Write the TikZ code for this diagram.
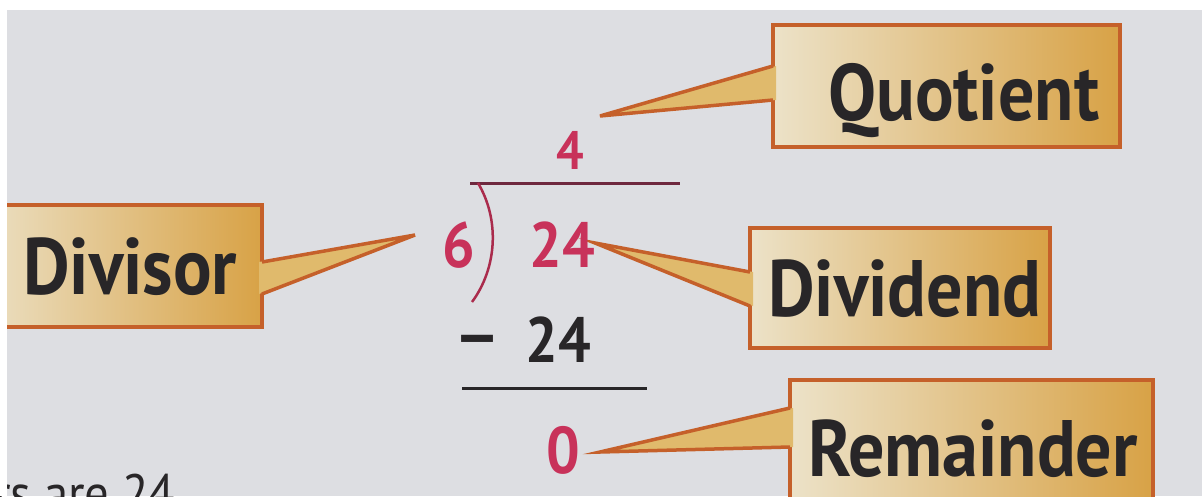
\documentclass[tikz,border=0pt]{standalone}
\usepackage{fontspec}
\newfontfamily\lblfont{PT Sans}[FakeStretch=0.9]
\definecolor{bg}{RGB}{221,222,226}
\definecolor{brd}{RGB}{197,96,42}
\definecolor{boxL}{RGB}{236,226,200}
\definecolor{boxR}{RGB}{216,162,70}
\definecolor{tailC}{RGB}{224,186,108}
\definecolor{txt}{RGB}{40,38,40}
\definecolor{red1}{RGB}{200,50,90}
\definecolor{maroon1}{RGB}{110,40,62}
\begin{document}
\begin{tikzpicture}[x=1pt,y=-1pt,
  lbl/.style={font=\lblfont\bfseries\fontsize{80}{86}\selectfont, text=txt, inner sep=0pt, anchor=base west},
  num/.style={font=\lblfont\bfseries\fontsize{64}{70}\selectfont, text=red1, inner sep=0pt},
  callbox/.style={draw=brd, line width=3.5pt, left color=boxL, right color=boxR, inner sep=0pt},
  tailfill/.style={fill=tailC},
  tailedge/.style={draw=brd, line width=3.5pt, line join=miter},
]
\useasboundingbox (0,0) rectangle (1202,496);
\clip (0,0) rectangle (1202,496);
\fill[bg] (0,0) rectangle (1202,496);

% ---- Quotient callout
\node[callbox, minimum width=347pt, minimum height=122pt] (qbox) at (946.5,86) {};
\coordinate (qa) at (773,66);
\coordinate (qb) at (773,100);
\coordinate (qtip) at (600,116);
\fill[tailfill] ([xshift=3pt]qa) -- (qtip) -- ([xshift=3pt]qb) -- cycle;
\draw[tailedge] (qa) -- (qtip) -- (qb);
\node[lbl] (quot) at (828,120) {Quotient};

% ---- Divisor callout
\node[callbox, minimum width=290pt, minimum height=122pt] (dbox) at (117,266) {};
\coordinate (da) at (262,262);
\coordinate (db) at (262,294);
\coordinate (dtip) at (415,235);
\fill[tailfill] ([xshift=-3pt]da) -- (dtip) -- ([xshift=-3pt]db) -- cycle;
\draw[tailedge] (da) -- (dtip) -- (db);
\node[lbl] (divr) at (23,294) {Divisor};

% ---- Dividend callout
\node[callbox, minimum width=300pt, minimum height=120pt] (vbox) at (900,288) {};
\coordinate (va) at (750,272);
\coordinate (vb) at (750,306);
\coordinate (vtip) at (595,243);
\fill[tailfill] ([xshift=3pt]va) -- (vtip) -- ([xshift=3pt]vb) -- cycle;
\draw[tailedge] (va) -- (vtip) -- (vb);
\node[lbl] (divd) at (768,316) {Dividend};

% ---- Remainder callout
\node[callbox, minimum width=363pt, minimum height=150pt] (rbox) at (971.5,455) {};
\coordinate (ra) at (790,408);
\coordinate (rb) at (790,447);
\coordinate (rtip) at (600,452);
\fill[tailfill] ([xshift=3pt]ra) -- (rtip) -- ([xshift=3pt]rb) -- cycle;
\draw[tailedge] (ra) -- (rtip) -- (rb);
\node[lbl] (rem) at (808,476) {Remainder};

% ---- long division
\node[num, font=\lblfont\bfseries\fontsize{54}{60}\selectfont] (q) at (570,150) {4};
\coordinate (l1a) at (470,183);
\coordinate (l1b) at (680,183);
\draw[maroon1, line width=3pt] (l1a) -- (l1b);
\coordinate (bt) at (478,183);
\coordinate (br) at (472,302);
\draw[red1!85!black, line width=2.5pt] (bt) .. controls (500,220) and (497,268) .. (br);
\node[num] (six) at (459,245) {6};
\node[num] (dvd) at (562,245) {24};
\node[num, text=txt, xscale=1.25, anchor=base] (minus) at (477,360) {−};
\node[num, text=txt] (sub) at (558,340) {24};
\coordinate (l2a) at (462,388);
\coordinate (l2b) at (647,388);
\draw[txt, line width=3pt] (l2a) -- (l2b);
\node[num, font=\lblfont\bfseries\fontsize{66}{70}\selectfont] (zero) at (563,450) {0};

% ---- cut-off text
\node[font=\lblfont\fontsize{54}{60}\selectfont, text=txt, inner sep=0pt, anchor=base west] (cut) at (-6,512) {rs are 24};

% ---- white page edges
\fill[white] (0,0) rectangle (1202,10);
\fill[white] (0,0) rectangle (7,496);
\end{tikzpicture}
\end{document}
